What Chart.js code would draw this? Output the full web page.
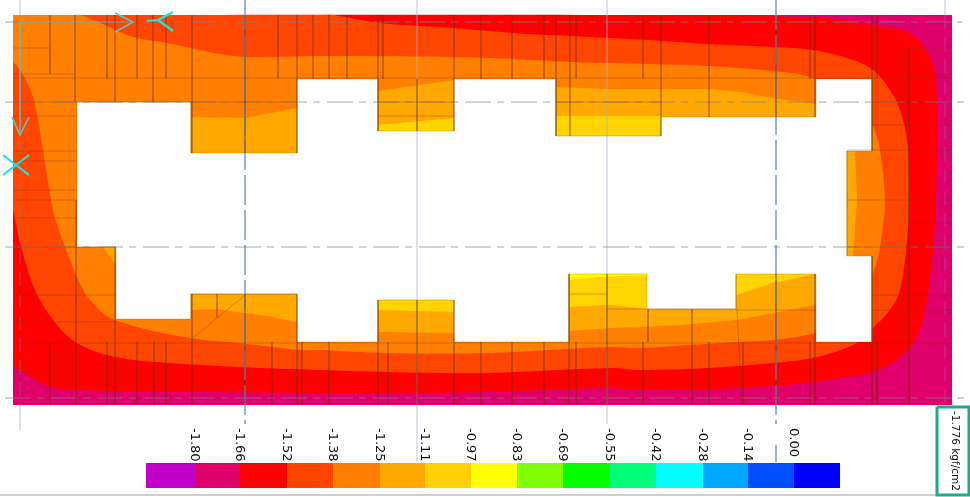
<!DOCTYPE html>
<html>
<head>
<meta charset="utf-8">
<script src="https://cdn.jsdelivr.net/npm/chart.js@4/dist/chart.umd.min.js"></script>
<style>
  html, body { margin: 0; padding: 0; background: #fff; overflow: hidden; }
  #plate { display: block; filter: blur(0.7px); }
</style>
</head>
<body>
<canvas id="plate" width="970" height="497"></canvas>
<script>
'use strict';

// colour bar
const legendEdges = [146, 195, 240, 287, 333, 380, 425, 471, 517, 563, 610, 656, 703, 748, 794, 840];
const legendColors = ['#c000c8', '#dc0068', '#ff0000', '#ff4400', '#ff8000', '#ffa800', '#ffd000', '#ffff00',
  '#80ff00', '#00ff00', '#00ff78', '#00ffff', '#00a8ff', '#0050ff', '#0000ff'];
const tickLabels = ['-1.80', '-1.66', '-1.52', '-1.38', '-1.25', '-1.11', '-0.97', '-0.83',
  '-0.69', '-0.55', '-0.42', '-0.28', '-0.14', '0.00'];
const peakLabel = '-1.776 kgf/cm2';

// contour bands (x, y)
const plateBand = [[13, 15], [952, 15], [952, 405], [13, 405]];
const redBand = [[13, 15], [640, 15], [800, 17], [845, 20], [873, 25], [907, 32], [923, 45], [933, 65], [937, 100], [936, 200], [933, 250],
  [927, 300], [917, 337], [900, 357], [873, 372], [840, 378], [807, 383], [740, 388], [640, 390], [610, 388], [487, 392],
  [387, 393], [320, 393], [200, 392], [77, 390], [50, 387], [33, 378], [13, 367]];
const orangeRedBand = [[13, 15], [325, 15], [333, 15], [380, 23], [453, 28], [513, 33], [570, 36], [650, 40], [707, 44], [773, 47],
  [813, 50], [847, 58], [873, 70], [893, 95], [903, 120], [908, 150], [909, 200], [907, 240], [900, 290], [890, 310],
  [873, 328], [857, 343], [817, 357], [773, 363], [707, 368], [640, 370], [610, 368], [487, 373], [387, 372], [320, 370],
  [240, 367], [170, 363], [115, 357], [77, 343], [53, 320], [35, 290], [22, 250], [13, 210]];
const orangeBand = [[13, 15], [72, 15], [80, 15], [100, 23], [133, 37], [167, 43], [200, 50], [233, 56], [267, 57], [320, 56],
  [353, 56], [453, 57], [513, 59], [570, 62], [650, 64], [707, 66], [773, 71], [810, 77], [840, 92], [865, 112], [872, 123],
  [880, 150], [885, 200], [883, 225], [878, 257], [868, 285], [850, 318], [815, 333], [773, 340], [737, 342], [690, 345],
  [640, 348], [610, 347], [487, 353], [387, 353], [320, 350], [300, 350], [240, 343], [190, 338], [115, 320], [90, 300],
  [77, 277], [60, 233], [53, 210], [43, 150], [33, 97], [20, 70], [13, 62]];
const amberPatches = [
  [[191, 117], [245, 118], [297, 108], [297, 153], [191, 153]],
  [[378, 91], [454, 80], [454, 131], [378, 131]],
  [[556, 87], [610, 89], [650, 89], [710, 89], [740, 92], [773, 98], [816, 104], [816, 117], [661, 117], [661, 136], [556, 136]],
  [[847, 151], [855, 151], [857, 200], [853, 256], [847, 256]],
  [[191, 294], [297, 294], [297, 322], [267, 316], [245, 313], [217, 309], [191, 310]],
  [[103, 247], [116, 247], [116, 265]],
  [[378, 300], [454, 300], [454, 333], [378, 332]],
  [[569, 274], [816, 274], [816, 305], [773, 313], [737, 320], [680, 325], [640, 327], [610, 328], [569, 331]]
];
const goldPatches = [
  [[378, 125], [454, 118], [454, 131], [378, 131]],
  [[556, 116], [661, 116], [661, 136], [556, 136]],
  [[378, 300], [454, 300], [454, 312], [378, 310]],
  [[569, 274], [647, 274], [647, 309], [610, 305], [569, 307]],
  [[736, 274], [816, 274], [773, 283], [736, 295]]
];
const yellowPatches = [
  [[569, 274], [647, 274], [647, 275], [600, 277], [569, 280]]
];
const openingOutline = [[77, 102], [191, 102], [191, 153], [297, 153], [297, 79], [378, 79], [378, 131], [454, 131], [454, 79],
  [556, 79], [556, 136], [661, 136], [661, 117], [816, 117], [816, 79], [872, 79], [872, 151], [847, 151], [847, 256], [872, 256],
  [872, 342], [816, 342], [816, 274], [736, 274], [736, 309], [647, 309], [647, 274], [569, 274], [569, 342], [454, 342], [454, 300],
  [378, 300], [378, 342], [297, 342], [297, 294], [191, 294], [191, 319], [116, 319], [116, 247], [77, 247], [77, 102]];

// element mesh, x1 y1 x2 y2
const meshLines = [
  [50, 15, 50, 74], [75, 15, 75, 102], [107, 15, 107, 79], [115, 15, 115, 102], [137, 15, 137, 79], [153, 15, 153, 102],
  [166, 15, 166, 79], [192, 15, 192, 153], [245, 15, 245, 153], [278, 15, 278, 79], [297, 15, 297, 153], [313, 15, 313, 79],
  [329, 15, 329, 79], [347, 15, 347, 79], [378, 15, 378, 131], [383, 15, 383, 79], [417, 79, 417, 131], [454, 15, 454, 131],
  [481, 15, 481, 79], [512, 15, 512, 79], [544, 15, 544, 79], [556, 15, 556, 136], [570, 15, 570, 136], [576, 15, 576, 79],
  [643, 15, 643, 79], [661, 15, 661, 136], [709, 15, 709, 117], [776, 15, 776, 117], [810, 15, 810, 79], [815, 15, 815, 117],
  [872, 15, 872, 151], [877, 15, 877, 79], [909, 48, 909, 405], [872, 256, 872, 405],
  [13, 48, 50, 48], [13, 74, 75, 74], [13, 78, 952, 78], [13, 102, 297, 102], [13, 116, 77, 116], [13, 151, 77, 151],
  [13, 161, 77, 161], [13, 190, 77, 190], [13, 200, 77, 200], [378, 116, 454, 116], [378, 102, 454, 102], [556, 102, 661, 102],
  [909, 48, 952, 48], [909, 75, 952, 75], [872, 102, 952, 102], [872, 125, 952, 125], [847, 150, 952, 150], [847, 200, 952, 200],
  [909, 223, 952, 223], [847, 247, 952, 247],
  [13, 218, 77, 218], [13, 247, 116, 247], [13, 295, 116, 295], [13, 322, 116, 322], [13, 343, 952, 343], [13, 372, 50, 372],
  [50, 343, 50, 405], [76, 200, 76, 405], [107, 342, 107, 405], [115, 247, 115, 405], [137, 342, 137, 405], [154, 342, 154, 405],
  [166, 342, 166, 405], [192, 294, 192, 405], [217, 294, 217, 318], [193, 338, 245, 295], [245, 294, 245, 405], [272, 342, 272, 405],
  [297, 294, 297, 405], [302, 342, 302, 405], [191, 294, 297, 294],
  [329, 342, 329, 405], [378, 300, 378, 405], [388, 342, 388, 405], [417, 300, 417, 405], [454, 300, 454, 405], [481, 342, 481, 405],
  [512, 342, 512, 405], [544, 342, 544, 405], [569, 274, 569, 405], [576, 342, 576, 405], [607, 274, 607, 405], [643, 342, 643, 405],
  [569, 294, 607, 294], [607, 309, 736, 309], [648, 309, 648, 342], [692, 309, 692, 405], [709, 342, 709, 405], [737, 309, 742, 405],
  [743, 342, 743, 405], [776, 274, 776, 405], [810, 342, 810, 405], [815, 274, 815, 405], [877, 342, 877, 405],
  [872, 295, 952, 295], [736, 310, 816, 310], [872, 310, 952, 310]
];

// reference lines, x1 y1 x2 y2
const blueAxes = [[245, 0, 245, 424], [776, 0, 776, 424], [776, 445, 776, 462]];
const paleAxes = [[417, 0, 417, 462], [607, 0, 607, 424], [945, 0, 945, 15], [20, 0, 20, 15], [20, 405, 20, 430]];
const plateEdgeAxes = [[945, 15, 945, 405], [20, 140, 20, 405]];
const dashAxes = [[5, 22, 962, 22], [5, 102, 970, 102], [5, 247, 970, 247], [5, 398, 970, 398]];
const supportLines = [[20, 22, 130, 22], [20, 22, 20, 132]];
const arrowOutlines = [
  [[115, 13], [133, 22], [115, 32]],
  [[12, 117], [20, 135], [29, 117]]
];
const crossLines = [[173, 12, 158, 20], [158, 20, 147, 21], [158, 20, 173, 31], [29, 155, 3, 175], [3, 155, 29, 175]];
const frameBox = [[937, 407], [969, 407], [969, 495], [937, 495], [937, 407]];
const footLine = [[0, 495, 937, 495]];

const toPoints = (list) => list.map(([x, y]) => ({ x, y }));

// pieces of line with gaps between them
const toBroken = (list) => {
  const points = [];
  list.forEach(([x1, y1, x2, y2]) => {
    points.push({ x: x1, y: y1 }, { x: x2, y: y2 }, { x: null, y: null });
  });
  return points;
};

const datasets = [];

const addShape = (outline, color, edge, edgeWidth, curve) => {
  datasets.push({
    data: toPoints(outline), showLine: true, fill: 'shape', backgroundColor: color,
    borderColor: edge || color, borderWidth: edgeWidth === undefined ? 0 : edgeWidth, pointRadius: 0, tension: curve || 0
  });
};

const addLines = (list, color, width, dash) => {
  datasets.push({
    data: toBroken(list), showLine: true, fill: false, borderColor: color, borderWidth: width,
    borderDash: dash || [], pointRadius: 0, tension: 0
  });
};

addShape(plateBand, '#e0006a');
addShape(redBand, '#ff0000', null, 0, 0.35);
addShape(orangeRedBand, '#ff4600', null, 0, 0.35);
addShape(orangeBand, '#ff8000', null, 0, 0.35);
amberPatches.forEach((p) => addShape(p, '#ffa800'));
goldPatches.forEach((p) => addShape(p, '#ffd400'));
yellowPatches.forEach((p) => addShape(p, '#ffff00'));
addShape(openingOutline, '#ffffff', 'rgba(170,110,0,0.35)', 1);

addLines(paleAxes, 'rgba(170,175,200,0.5)', 1.5);
addLines(plateEdgeAxes, 'rgba(120,125,170,0.55)', 1, [14, 8]);
addLines(blueAxes, '#8199c4', 1.5, [30, 5]);
addLines(dashAxes, 'rgba(125,130,160,0.7)', 1.2, [26, 6, 7, 7]);
addLines(meshLines, 'rgba(105,50,0,0.3)', 1);
addLines(supportLines, 'rgba(100,190,175,0.7)', 1);
arrowOutlines.forEach((a) => {
  datasets.push({ data: toPoints(a), showLine: true, fill: false, borderColor: '#5cc8c0', borderWidth: 1.5, pointRadius: 0, tension: 0 });
});
addLines(crossLines, '#22e4dc', 2.2);

// colour bar boxes
legendColors.forEach((c, i) => {
  const a = legendEdges[i], b = legendEdges[i + 1];
  addShape([[a, 463], [b, 463], [b, 488], [a, 488]], c);
});
addLines(footLine, '#cfcfcf', 2);
datasets.push({ data: toPoints(frameBox), showLine: true, fill: false, borderColor: '#1fa98e', borderWidth: 3, pointRadius: 0, tension: 0 });

// first dataset goes at the back
datasets.forEach((d, i) => { d.order = datasets.length - i; });

// the labels read downward, the tick option cannot do this
const sideLabels = {
  id: 'sideLabels',
  afterDraw(chart) {
    const { ctx, scales } = chart;
    const put = (text, xv, yv, font) => {
      ctx.save();
      ctx.translate(scales.x.getPixelForValue(xv), scales.y.getPixelForValue(yv));
      ctx.rotate(Math.PI / 2);
      ctx.font = font;
      ctx.fillStyle = '#111';
      ctx.textAlign = 'left';
      ctx.textBaseline = 'middle';
      ctx.fillText(text, 0, 0);
      ctx.restore();
    };
    tickLabels.forEach((t, i) => put(t, legendEdges[i + 1] - 1, 428, '13px "DejaVu Sans"'));
    put(peakLabel, 955, 411, '10.5px "DejaVu Sans"');
  }
};

new Chart(document.getElementById('plate').getContext('2d'), {
  type: 'scatter',
  data: { datasets },
  plugins: [sideLabels],
  options: {
    responsive: false,
    animation: false,
    events: [],
    layout: { padding: 0 },
    plugins: { legend: { display: false }, tooltip: { enabled: false } },
    scales: {
      x: { type: 'linear', min: 0, max: 970, display: false },
      y: { type: 'linear', min: 0, max: 497, reverse: true, display: false }
    }
  }
});
</script>
</body>
</html>
